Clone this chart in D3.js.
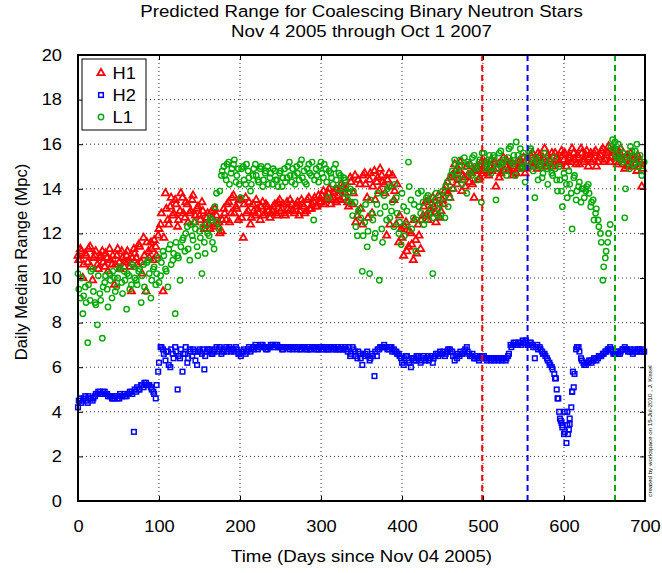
<!DOCTYPE html>
<html><head><meta charset="utf-8">
<script src="https://cdn.jsdelivr.net/npm/d3@7"></script>
<style>body{margin:0;background:#fff}svg{display:block}text{font-family:"Liberation Sans",Arial,sans-serif}</style>
</head><body>
<svg id="c" width="662" height="573"></svg>
<script>
// ---- data ----
const titleLines = ["Predicted Range for Coalescing Binary Neutron Stars", "Nov 4 2005 through Oct 1 2007"];
const xLabel = "Time (Days since Nov 04 2005)";
const yLabel = "Daily Median Range (Mpc)";
const creditText = "created by workspace on 15-Jul-2010 , J. Kissel";
const xTicks = [0,100,200,300,400,500,600,700];
const yTicks = [0,2,4,6,8,10,12,14,16,18,20];
const dayStep = 3;      // sample i of the "A" arrays is day i*3
const dayOffsetB = 1;   // sample i of the "B" arrays is day i*3+1
const seriesNames = ["H1","H2","L1"];
const h1A = [11.0,11.3,10.0,11.1,10.7,11.4,9.9,11.0,10.6,10.9,11.2,10.5,10.9,11.3,10.6,9.7,11.0,10.7,11.2,10.5,
11.0,10.8,9.4,11.3,10.9,11.5,10.7,11.8,9.4,11.2,11.6,10.8,11.4,11.9,12.4,9.4,13.8,12.6,13.2,12.8,
13.5,12.3,13.0,13.6,12.7,13.3,12.9,13.5,12.5,13.1,12.8,13.4,12.2,12.7,12.4,13.0,12.3,12.8,12.5,12.1,
13.1,12.6,13.4,12.9,13.7,13.2,12.6,13.5,11.8,13.6,13.0,12.4,13.3,12.8,13.1,12.6,13.4,12.9,13.2,12.7,
13.0,13.3,12.8,13.5,13.1,12.9,13.4,13.0,13.3,12.9,13.2,12.8,13.5,13.2,13.0,13.6,13.1,13.4,13.2,13.7,
13.4,13.9,13.5,13.8,13.3,13.6,14.0,13.7,13.5,14.1,13.8,13.4,14.5,13.3,14.6,12.8,14.2,12.4,14.7,13.6,
14.4,12.9,14.8,14.3,13.9,14.6,14.2,11.9,14.7,14.1,13.5,12.4,11.6,12.2,11.0,12.5,11.4,12.0,10.8,11.7,
12.4,11.3,12.8,13.4,12.6,13.1,13.6,12.9,13.3,12.7,13.5,13.9,14.3,13.6,14.6,15.1,14.2,14.8,13.9,14.5,
15.0,14.3,14.7,13.6,14.9,14.4,15.2,14.8,15.0,14.6,15.3,14.9,14.1,15.1,14.7,15.4,15.0,14.8,15.2,14.6,
15.1,14.9,15.3,15.0,14.7,15.4,15.1,15.6,15.2,14.9,15.5,15.2,15.8,15.0,15.3,15.6,15.1,15.4,15.2,15.7,
15.3,15.0,15.5,15.2,15.6,15.1,15.4,15.8,15.2,15.5,15.0,15.6,15.3,15.7,15.2,15.5,15.8,15.3,15.6,15.2,
15.7,15.4,15.1,15.6,15.3,14.9,15.5,15.2,15.0,15.4,14.8,15.3,14.1,null];
const h1B = [10.8,11.2,10.6,11.0,11.3,10.5,10.9,11.2,10.4,11.0,10.7,11.1,10.3,10.8,11.0,10.6,11.3,10.4,10.9,10.7,
11.2,10.5,10.9,11.1,10.6,11.4,10.2,11.0,11.6,10.9,11.3,11.7,11.0,12.2,12.9,11.8,13.1,12.4,13.6,12.9,
13.3,12.6,13.8,12.9,13.4,12.5,13.0,13.7,12.8,13.2,12.6,13.0,12.4,12.9,12.2,12.7,13.1,12.4,12.0,12.6,
12.9,13.3,12.5,13.6,12.9,13.1,13.5,12.7,13.3,12.9,13.4,12.7,13.0,13.5,12.9,13.2,12.8,13.3,13.0,12.9,
13.2,12.9,13.4,13.0,13.3,12.8,13.1,13.5,13.0,13.2,13.4,13.0,13.3,12.9,13.5,13.1,13.3,13.6,13.2,13.4,
13.7,13.3,13.6,14.0,13.5,13.8,13.4,13.9,14.2,13.6,14.0,13.2,14.3,13.8,12.5,14.4,13.1,14.6,14.2,12.7,
14.7,14.1,13.5,14.5,14.9,14.3,13.8,14.4,12.4,14.6,13.9,14.2,12.8,11.8,12.3,11.2,12.1,11.5,12.6,11.1,
11.9,12.6,13.2,12.8,13.5,12.9,13.2,12.5,13.7,13.0,13.3,14.1,13.8,14.5,14.0,14.8,14.4,15.2,14.6,14.1,
14.6,15.1,14.2,14.8,15.0,14.5,14.9,15.2,14.7,15.0,14.8,15.2,14.9,14.5,15.1,14.8,15.3,14.9,15.2,15.0,
14.7,15.2,15.0,15.4,14.9,15.2,15.5,15.0,15.3,15.6,15.1,15.4,15.0,15.5,15.2,15.0,15.6,15.3,15.1,15.5,
15.6,15.2,15.4,15.8,15.3,15.5,15.1,15.6,15.3,15.7,15.4,15.2,15.6,15.0,15.4,15.7,15.2,15.5,15.9,15.4,
15.6,15.2,15.5,15.8,15.1,15.4,15.0,15.6,15.3,15.1,15.5,15.2,14.9];
const h2A = [4.2,4.6,4.5,4.7,4.4,4.6,4.5,4.7,4.8,4.9,4.8,4.9,4.8,4.7,4.6,4.6,4.7,4.6,4.7,4.8,
4.7,4.8,4.9,3.1,4.9,5.0,5.2,5.1,5.3,5.2,5.1,4.9,4.6,5.8,6.9,6.8,6.3,6.7,6.0,6.6,
6.9,5.0,6.4,5.8,6.6,6.2,6.8,6.5,6.7,6.1,6.8,6.6,5.9,6.7,6.8,6.6,6.7,6.9,6.8,6.6,
6.7,6.9,6.8,6.7,6.8,6.9,6.6,6.5,6.7,6.6,6.8,6.7,6.9,7.0,6.8,6.9,7.0,6.9,6.8,6.9,
7.0,6.9,7.0,6.9,6.8,6.9,6.9,6.8,6.9,6.9,6.8,6.9,6.8,6.9,6.8,6.9,6.8,6.9,6.8,6.8,
6.9,6.8,6.9,6.8,6.9,6.8,6.8,6.9,6.8,6.8,6.9,6.7,6.5,6.9,6.7,6.4,6.6,6.1,6.5,6.7,
6.3,6.6,5.6,6.5,6.8,6.9,7.0,6.9,6.8,6.9,6.8,6.7,6.6,6.4,6.1,6.5,6.3,6.0,6.4,6.3,
6.5,6.2,6.4,6.3,6.5,6.4,6.2,6.5,6.6,6.7,6.6,6.5,6.7,6.8,6.7,6.3,6.4,6.5,6.6,6.7,
6.9,6.6,6.5,6.4,6.5,6.3,6.4,6.5,6.4,6.4,6.3,6.4,6.4,6.3,6.4,6.4,6.3,6.5,7.0,7.0,
7.1,7.0,7.1,7.2,7.1,7.0,7.1,7.0,6.4,7.0,6.9,6.7,6.6,6.4,6.2,6.0,5.7,5.0,4.0,3.5,
3.0,2.6,3.2,4.2,5.1,6.8,6.9,6.4,6.2,6.1,6.2,6.3,6.3,6.4,6.4,6.5,6.6,6.7,6.8,6.9,
6.7,6.6,6.7,6.6,6.8,6.9,6.8,6.7,6.7,6.8,6.7,6.8,6.7,6.7];
const h2B = [4.5,4.4,4.6,4.5,4.7,4.6,4.6,4.8,4.9,4.8,4.9,4.8,4.7,4.7,4.6,4.7,4.6,4.8,4.7,4.7,
4.8,4.9,4.8,5.0,5.1,5.0,5.2,5.3,5.2,5.2,5.0,4.8,5.2,6.2,6.9,6.6,6.7,6.1,6.8,6.4,
6.7,6.5,6.8,6.6,6.9,6.4,6.7,6.8,6.3,6.7,6.7,6.8,6.5,6.8,6.7,6.6,6.8,6.7,6.9,6.7,
6.8,6.7,6.9,6.8,6.7,6.8,6.6,6.7,6.8,6.7,6.9,6.8,6.8,6.9,6.9,7.0,6.9,6.8,6.9,7.0,
6.9,7.0,6.9,6.9,6.8,6.9,6.9,6.9,6.8,6.9,6.9,6.8,6.9,6.9,6.8,6.8,6.9,6.9,6.8,6.9,
6.8,6.9,6.8,6.8,6.9,6.9,6.8,6.8,6.9,6.8,6.8,6.9,6.6,6.8,6.5,6.7,6.4,6.6,6.6,6.5,
6.4,6.5,6.7,6.8,6.9,6.9,6.9,6.8,6.9,6.7,6.7,6.6,6.5,6.2,6.4,6.5,6.2,6.4,6.3,6.5,
6.4,6.3,6.5,6.4,6.3,6.5,6.4,6.6,6.5,6.6,6.7,6.6,6.8,6.7,6.5,6.5,6.6,6.7,6.6,6.8,
6.7,6.5,6.6,6.4,6.4,6.5,6.5,6.4,6.3,6.4,6.4,6.3,6.4,6.4,6.3,6.4,6.4,6.6,6.9,7.1,
7.0,7.1,7.0,7.1,7.2,7.0,7.1,6.9,6.9,6.8,6.8,6.6,6.5,6.3,6.1,5.9,5.5,4.6,3.7,3.3,
3.1,3.4,3.7,4.9,5.7,6.9,6.7,6.3,6.1,6.2,6.3,6.2,6.4,6.3,6.5,6.5,6.6,6.7,6.8,6.8,
6.6,6.7,6.6,6.7,6.8,6.8,6.7,6.8,6.6,6.7,6.8,6.7,6.8];
const h2DipDays = [590,593,596,598,601,604,605,607,610,611];
const h2DipValues = [5.5,4.6,3.6,3.4,4.0,4.0,3.0,3.45,4.9,5.8];
const l1A = [10.2,9.1,8.4,9.6,7.1,9.0,10.4,8.9,7.9,9.3,7.3,9.8,9.5,10.2,9.1,10.0,9.6,10.4,9.8,10.3,
8.6,10.1,9.7,10.5,9.9,10.3,8.9,10.6,9.4,10.8,9.1,10.4,9.7,10.9,10.1,11.2,10.4,9.6,11.5,10.8,
8.4,11.0,9.9,11.7,11.2,12.3,10.8,11.9,12.5,11.4,12.1,10.2,11.6,12.4,11.9,12.6,11.3,13.8,12.2,14.6,
15.0,14.4,15.2,14.7,15.1,14.3,14.9,13.6,15.0,14.2,14.8,13.9,14.6,15.1,14.4,14.9,14.1,14.7,15.0,14.5,
14.2,14.8,14.4,14.7,14.1,14.9,14.5,15.2,14.3,14.6,15.0,14.4,15.3,14.8,14.2,15.1,14.6,12.6,14.9,14.3,
15.2,14.5,14.9,13.6,14.7,14.2,15.1,14.0,14.6,13.8,14.4,13.5,14.0,12.8,13.4,11.9,13.1,10.3,12.5,11.4,
10.2,12.9,11.8,13.3,9.9,12.2,13.7,12.6,14.1,13.0,12.3,13.6,12.0,11.5,13.2,12.4,15.2,13.5,12.7,11.2,
13.8,12.9,13.4,12.6,13.7,13.1,10.2,13.5,12.8,13.3,13.9,12.7,14.3,13.6,14.8,15.3,14.5,15.0,14.2,15.4,
13.8,15.1,14.6,15.5,14.9,15.2,13.4,15.6,15.0,15.3,14.7,15.5,13.5,15.1,15.7,15.2,14.8,15.4,15.9,15.1,
14.6,15.5,15.8,15.0,14.3,15.4,15.7,15.1,13.6,15.3,15.0,14.5,15.6,14.9,15.2,14.7,15.4,14.4,15.0,13.9,
14.7,14.2,14.8,13.8,14.5,13.5,14.1,13.4,14.0,13.9,14.2,13.2,13.5,12.9,12.6,12.0,9.9,10.9,11.6,12.4,
16.2,16.1,15.4,15.8,15.2,12.7,15.5,14.9,15.7,15.1,16.0,15.3,14.6,15.2];
const l1B = [9.5,10.0,9.2,8.9,9.7,10.3,9.4,8.8,10.1,9.0,9.6,10.1,8.7,9.9,10.3,9.4,10.0,10.5,9.3,9.9,
10.2,9.5,10.6,10.0,9.7,10.4,10.1,9.6,10.7,10.2,9.9,10.5,10.2,9.8,10.7,11.0,10.3,11.3,10.6,11.1,
11.6,10.9,11.4,11.8,12.0,11.3,12.4,11.7,12.2,11.0,11.8,12.3,11.1,12.0,12.7,11.6,13.2,12.5,13.9,14.8,
14.6,15.1,14.2,14.9,15.3,14.6,14.2,14.9,14.4,15.1,14.5,14.2,14.9,14.6,14.3,15.0,14.4,14.8,14.2,14.7,
14.9,14.4,14.1,14.8,14.5,14.3,15.0,14.6,14.9,14.2,14.7,15.1,14.5,14.3,14.9,14.7,15.2,14.4,14.6,15.0,
14.7,15.1,14.3,14.8,14.5,14.9,14.4,14.7,14.2,14.5,14.1,13.8,13.4,13.9,12.3,13.0,12.7,11.9,13.3,12.1,
13.5,12.6,12.0,13.8,12.9,11.6,13.2,14.0,12.7,13.4,14.2,12.9,12.5,13.8,11.9,13.0,14.1,12.2,13.3,12.6,
13.2,13.9,12.4,13.6,12.9,13.4,12.7,13.8,13.1,12.8,13.6,14.1,13.2,14.6,14.0,15.1,14.7,15.3,14.4,15.0,
15.2,14.7,15.4,15.0,14.4,15.3,15.6,14.9,15.2,15.5,15.0,15.4,14.9,15.6,15.1,15.3,14.6,15.8,15.2,15.5,
16.1,15.3,14.9,15.6,15.0,15.2,15.8,14.8,15.4,14.4,15.1,14.7,15.3,14.2,15.0,14.6,14.9,13.9,14.4,13.2,
14.5,13.6,14.2,12.2,14.6,13.9,14.3,14.0,13.6,14.1,13.8,13.4,12.6,13.1,12.3,11.6,10.5,11.2,12.0,15.9,
15.8,15.5,16.0,15.3,15.6,14.0,15.2,15.9,15.4,15.7,15.0,15.5,14.8];
const markerDays = [499,555,663]; // H1, H2, L1 vertical reference lines

// ---- drawing ----
const svg = d3.select("#c");
const x = d3.scaleLinear().domain([0,700]).range([78,645]);
const y = d3.scaleLinear().domain([0,20]).range([501,55]);
const colors = {H1:"#ff0000", H2:"#0000ff", L1:"#00a800"};
const font = "Liberation Sans, Arial, sans-serif";
const FS = 16.6, SX = 1.1; // font size and horizontal stretch of the reference lettering

function hText(parent, tx, ty, str, anchor, size){
  return parent.append("text").attr("transform",`translate(${tx},${ty}) scale(${SX},1)`)
    .attr("text-anchor",anchor||"middle").attr("font-size",size||FS).attr("fill","#000").text(str);
}

// title
titleLines.forEach((t,i)=>hText(svg, 361.5, 17+i*19.5, t, "middle", 17));

// grid
const g = svg.append("g");
g.selectAll("line.vg").data(xTicks.slice(1,-1)).join("line")
  .attr("x1",d=>x(d)).attr("x2",d=>x(d)).attr("y1",y(20)).attr("y2",y(0))
  .attr("stroke","#333").attr("stroke-width",1).attr("stroke-dasharray","1,3");
g.selectAll("line.hg").data(yTicks.slice(1,-1)).join("line")
  .attr("y1",d=>y(d)).attr("y2",d=>y(d)).attr("x1",x(0)).attr("x2",x(700))
  .attr("stroke","#333").attr("stroke-width",1).attr("stroke-dasharray","1,3");

// points
const mk = (arr, off) => arr.map((v,i)=>({d:i*dayStep+off, v})).filter(p=>p.v!==null);
const h1Pts = mk(h1A,0).concat(mk(h1B,dayOffsetB));
const l1Pts = mk(l1A,0).concat(mk(l1B,dayOffsetB));
const h2Pts = mk(h2A,0).concat(mk(h2B,dayOffsetB)).concat(h2DipDays.map((d,i)=>({d, v:h2DipValues[i]})));
const plot = svg.append("g");
const triPath = d3.symbol(d3.symbolTriangle, 22)();
plot.selectAll("path.h1").data(h1Pts).join("path")
  .attr("d", triPath)
  .attr("transform",p=>`translate(${x(p.d)},${y(p.v)})`)
  .attr("fill","none").attr("stroke",colors.H1).attr("stroke-width",1.8);
plot.selectAll("rect.h2").data(h2Pts).join("rect")
  .attr("x",p=>x(p.d)-2.3).attr("y",p=>y(p.v)-2.3).attr("width",4.6).attr("height",4.6)
  .attr("fill","none").attr("stroke",colors.H2).attr("stroke-width",1.5);
plot.selectAll("circle.l1").data(l1Pts).join("circle")
  .attr("cx",p=>x(p.d)).attr("cy",p=>y(p.v)).attr("r",2.7)
  .attr("fill","none").attr("stroke",colors.L1).attr("stroke-width",1.4);

// vertical markers
svg.selectAll("line.mk").data(markerDays).join("line")
  .attr("x1",d=>x(d)).attr("x2",d=>x(d)).attr("y1",y(20)).attr("y2",y(0))
  .attr("stroke",(d,i)=>colors[seriesNames[i]]).attr("stroke-width",2)
  .attr("stroke-dasharray","6,4");

// axes box with inside ticks
const ax = svg.append("g");
ax.append("g").attr("transform",`translate(0,${y(0)})`)
  .call(d3.axisBottom(x).tickValues(xTicks).tickSizeInner(-5).tickSizeOuter(0).tickPadding(19))
  .call(s=>{s.select(".domain").remove();
    s.selectAll("text").attr("font-size",FS).attr("font-family",font).attr("fill","#000").attr("transform",`scale(${SX},1)`);});
ax.append("g").attr("transform",`translate(0,${y(20)})`)
  .call(d3.axisTop(x).tickValues(xTicks).tickSizeInner(-5).tickSizeOuter(0).tickFormat(""))
  .call(s=>s.select(".domain").remove());
ax.append("g").attr("transform",`translate(${x(0)},0)`)
  .call(d3.axisLeft(y).tickValues(yTicks).tickSizeInner(-5).tickSizeOuter(0))
  .call(s=>{s.select(".domain").remove();
    s.selectAll("text").attr("x",-16/SX).attr("font-size",FS).attr("font-family",font).attr("fill","#000").attr("transform",`scale(${SX},1)`);});
ax.append("g").attr("transform",`translate(${x(700)},0)`)
  .call(d3.axisRight(y).tickValues(yTicks).tickSizeInner(-5).tickSizeOuter(0).tickFormat(""))
  .call(s=>s.select(".domain").remove());
ax.selectAll(".tick line").attr("stroke","#000").attr("stroke-width",1);
ax.append("rect").attr("x",x(0)).attr("y",y(20)).attr("width",x(700)-x(0)).attr("height",y(0)-y(20))
  .attr("fill","none").attr("stroke","#000").attr("stroke-width",2);

// axis labels
hText(svg, 361.5, 562, xLabel, "middle", 17);
svg.append("text").attr("transform","translate(27,262) rotate(-90)").attr("text-anchor","middle")
  .attr("font-size",FS).attr("fill","#000").text(yLabel);

// credit
svg.append("text").attr("transform","translate(652,431) rotate(-90)").attr("text-anchor","middle")
  .attr("font-size",6.2).attr("fill","#000").text(creditText);

// legend
const lg = svg.append("g");
lg.append("rect").attr("x",82).attr("y",59).attr("width",64).attr("height",71)
  .attr("fill","#fff").attr("stroke","#000").attr("stroke-width",1);
const ly = [73,95,117];
seriesNames.forEach((n,i)=>{
  const cy = ly[i];
  if(n==="H1") lg.append("path").attr("d",triPath).attr("transform",`translate(101,${cy})`)
      .attr("fill","none").attr("stroke",colors.H1).attr("stroke-width",1.8);
  if(n==="H2") lg.append("rect").attr("x",98.7).attr("y",cy-2.3).attr("width",4.6).attr("height",4.6)
      .attr("fill","none").attr("stroke",colors.H2).attr("stroke-width",1.5);
  if(n==="L1") lg.append("circle").attr("cx",101).attr("cy",cy).attr("r",2.7)
      .attr("fill","none").attr("stroke",colors.L1).attr("stroke-width",1.4);
  hText(lg, 112.5, cy+6, n, "start");
});
</script>
</body></html>
